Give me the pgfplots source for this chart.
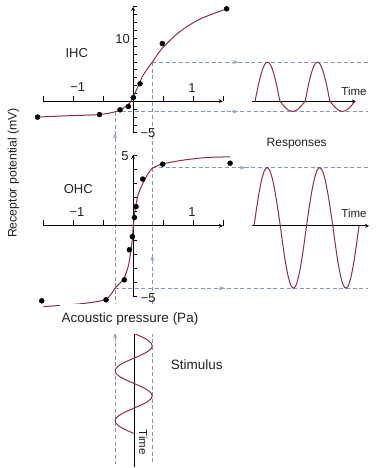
\documentclass[border=0pt]{standalone}
\usepackage{pgfplots}
\pgfplotsset{compat=1.18}
\usepackage{fontspec}
\setmainfont{Liberation Sans}
\usetikzlibrary{arrows.meta}
\definecolor{crvc}{HTML}{8E2F4A}
\definecolor{dashc}{HTML}{8398B8}
\definecolor{arrc}{HTML}{95A6C4}
\definecolor{txtc}{HTML}{222222}
\pgfplotsset{
  panel/.style={scale only axis, clip=false, anchor=south west,
    axis line style={line width=0.8pt, black, -},
    every inner x axis line/.append style={-},
    every inner y axis line/.append style={-},
    tick style={line width=0.8pt, black},
    tick align=center},
  dsh/.style={color=dashc, line width=0.7pt, dash pattern=on 4pt off 2.6pt},
  arw/.style={color=arrc, line width=0.7pt, -{Stealth[length=6pt,width=4pt]}},
  crv/.style={color=crvc, line width=1pt, smooth},
  dots/.style={only marks, mark=*, mark size=2.5pt, black}
}
\begin{document}
\begin{tikzpicture}[x=1pt,y=1pt]
\useasboundingbox[fill=white] (0,0) rectangle (379,468);

% ---------- IHC transfer curve ----------
\begin{axis}[panel, at={(43.2pt,335.2pt)}, width=179.7pt, height=126pt,
  xmin=-1.5, xmax=1.5, ymin=-5, ymax=15,
  axis lines=middle,
  xtick={-1.5,-1,-0.5,0,0.5,1,1.5},
  ytick={-5,-3.75,-2.5,-1.25,0,1.25,2.5,3.75,5,6.25,7.5,8.75,10,11.25,12.5,13.75,15},
  xticklabels={}, yticklabels={},
  xtick style={/pgfplots/major tick length=5.5pt, yshift=2.75pt},
  ytick style={/pgfplots/major tick length=3.5pt, xshift=1.75pt}]
  % guide lines
  \addplot[dsh] coordinates {(0.322,6.22) (3.92,6.22)};
  \addplot[dsh] coordinates {(-0.30,-1.62) (3.92,-1.62)};
  \addplot[dsh] coordinates {(-0.30,-1.62) (-0.30,-57.5)};
  \addplot[dsh] coordinates {(0.322,6.22) (0.322,-57.5)};
  \addplot[arw] coordinates {(1.66,6.22) (1.76,6.22)};
  \addplot[arw] coordinates {(1.66,-1.62) (1.76,-1.62)};
  \addplot[arw] coordinates {(-0.30,-6.5) (-0.30,-5.0)};
  \addplot[arw] coordinates {(0.322,-25.9) (0.322,-24.4)};
  \addplot[arw] coordinates {(-0.30,-38.2) (-0.30,-36.7)};
  % curve
  \addplot[crv] coordinates {(-1.595,-2.51) (-1.105,-2.30) (-0.562,-2.10) (-0.30,-1.67)
    (-0.162,-1.08) (-0.05,-0.19) (0.005,0.76) (0.088,2.46) (0.172,4.21) (0.322,6.22)
    (0.489,8.44) (0.785,11.08) (1.118,13.05) (1.564,14.68)};
  \addplot[dots] coordinates {(-1.595,-2.51) (-0.56,-2.10) (-0.217,-1.35) (-0.078,-0.83)
    (0.005,0.60) (0.117,2.78) (0.488,9.17) (1.562,14.68)};
\end{axis}

% ---------- OHC transfer curve ----------
\begin{axis}[panel, at={(43.2pt,171.3pt)}, width=179.7pt, height=141.7pt,
  xmin=-1.5, xmax=1.5, ymin=-5, ymax=5,
  axis lines=middle,
  xtick={-1.5,-1,-0.5,0,0.5,1,1.5},
  ytick={-5,-4,-3,-2,-1,0,1,2,3,4,5},
  xticklabels={}, yticklabels={},
  xtick style={/pgfplots/major tick length=5.5pt, yshift=2.75pt},
  ytick style={/pgfplots/major tick length=3.5pt, xshift=1.75pt}]
  \addplot[dsh] coordinates {(0.322,4.11) (3.92,4.11)};
  \addplot[dsh] coordinates {(-0.30,-4.40) (3.92,-4.40)};
  \addplot[arw] coordinates {(1.78,4.11) (1.88,4.11)};
  \addplot[arw] coordinates {(1.44,-4.40) (1.54,-4.40)};
  \addplot[crv] coordinates {(-1.497,-5.70) (-0.830,-5.48) (-0.451,-5.17) (-0.30,-4.40)
    (-0.162,-3.76) (-0.078,-2.82) (-0.022,-1.29) (0.005,0) (0.033,1.06) (0.088,2.24)
    (0.20,3.30) (0.259,3.74) (0.322,4.06) (0.40,4.23) (0.505,4.38) (0.84,4.64)
    (1.23,4.82) (1.62,4.87)};
  \addplot[dots] coordinates {(-1.524,-5.29) (-0.451,-5.22) (-0.145,-3.81) (-0.062,-1.69)
    (-0.012,-0.76) (0.022,0.59) (0.05,1.36) (0.162,3.30) (0.495,4.35) (1.62,4.42)};
\end{axis}

% ---------- IHC response ----------
\begin{axis}[panel, at={(251.7pt,335.2pt)}, width=104.3pt, height=126pt,
  xmin=-0.066, xmax=2.02, ymin=-5, ymax=15,
  axis x line=middle, axis y line=none, xtick=\empty, ytick=\empty]
  \addplot[crv] coordinates {
    (0,0) (0.05,1.922) (0.10,3.656) (0.15,5.032) (0.20,5.916) (0.25,6.22) (0.30,5.916)
    (0.35,5.032) (0.40,3.656) (0.45,1.922) (0.50,0) (0.55,-0.494) (0.60,-0.940)
    (0.65,-1.294) (0.70,-1.522) (0.75,-1.6) (0.80,-1.522) (0.85,-1.294) (0.90,-0.940)
    (0.95,-0.494) (1.00,0) (1.05,1.922) (1.10,3.656) (1.15,5.032) (1.20,5.916)
    (1.25,6.22) (1.30,5.916) (1.35,5.032) (1.40,3.656) (1.45,1.922) (1.50,0)
    (1.55,-0.494) (1.60,-0.940) (1.65,-1.294) (1.70,-1.522) (1.75,-1.6) (1.80,-1.522)
    (1.85,-1.294) (1.90,-0.940) (1.95,-0.494) (2.00,0)};
\end{axis}

% ---------- OHC response ----------
\begin{axis}[panel, at={(251.7pt,171.3pt)}, width=117.3pt, height=141.7pt,
  xmin=-0.044, xmax=2.19, ymin=-5, ymax=5,
  axis x line=middle, axis y line=none, xtick=\empty, ytick=\empty]
  \addplot[crv] coordinates {
    (0,0) (0.05,1.270) (0.10,2.416) (0.15,3.325) (0.20,3.909) (0.25,4.11) (0.30,3.909)
    (0.35,3.325) (0.40,2.416) (0.45,1.270) (0.50,0) (0.55,-1.360) (0.60,-2.586)
    (0.65,-3.560) (0.70,-4.185) (0.75,-4.40) (0.80,-4.185) (0.85,-3.560) (0.90,-2.586)
    (0.95,-1.360) (1.00,0) (1.05,1.270) (1.10,2.416) (1.15,3.325) (1.20,3.909)
    (1.25,4.11) (1.30,3.909) (1.35,3.325) (1.40,2.416) (1.45,1.270) (1.50,0)
    (1.55,-1.360) (1.60,-2.586) (1.65,-3.560) (1.70,-4.185) (1.75,-4.40) (1.80,-4.185)
    (1.85,-3.560) (1.90,-2.586) (1.95,-1.360) (2.00,0)};
\end{axis}

% ---------- Stimulus ----------
\begin{axis}[panel, at={(43.2pt,0.7pt)}, width=179.7pt, height=134pt,
  xmin=-1.5, xmax=1.5, ymin=0, ymax=2.68, y dir=reverse, hide axis]
  \addplot[black, line width=0.8pt] coordinates {(0.03,0) (0.03,2.68)};
  \addplot[crv] coordinates {
    (0.01,0) (0.1058,0.05) (0.1922,0.10) (0.2608,0.15) (0.3048,0.20) (0.32,0.25)
    (0.3048,0.30) (0.2608,0.35) (0.1922,0.40) (0.1058,0.45) (0.01,0.50)
    (-0.0858,0.55) (-0.1722,0.60) (-0.2408,0.65) (-0.2848,0.70) (-0.30,0.75)
    (-0.2848,0.80) (-0.2408,0.85) (-0.1722,0.90) (-0.0858,0.95) (0.01,1.00)
    (0.1058,1.05) (0.1922,1.10) (0.2608,1.15) (0.3048,1.20) (0.32,1.25)
    (0.3048,1.30) (0.2608,1.35) (0.1922,1.40) (0.1058,1.45) (0.01,1.50)
    (-0.0858,1.55) (-0.1722,1.60) (-0.2408,1.65) (-0.2848,1.70) (-0.30,1.75)
    (-0.2848,1.80) (-0.2408,1.85) (-0.1722,1.90) (-0.0858,1.95) (0.01,2.00)};
\end{axis}

% ---------- texts ----------
\begin{scope}[every node/.style={text=txtc, inner sep=0pt}]
\node[font=\fontsize{13}{15}\selectfont] at (76.7,414.7) {IHC};
\node[font=\fontsize{13}{15}\selectfont] at (77.7,380.7) {−1};
\node[font=\fontsize{13}{15}\selectfont] at (192,380) {1};
\node[font=\fontsize{13}{15}\selectfont] at (122.7,428.7) {10};
\node[font=\fontsize{13}{15}\selectfont] at (148,334.7) {−5};
\node[font=\fontsize{13}{15}\selectfont] at (78.3,278.7) {OHC};
\node[font=\fontsize{13}{15}\selectfont] at (77,256.3) {−1};
\node[font=\fontsize{13}{15}\selectfont] at (192,256.3) {1};
\node[font=\fontsize{13}{15}\selectfont] at (125,312.3) {5};
\node[font=\fontsize{13}{15}\selectfont] at (148.3,170.3) {−5};
\node[font=\fontsize{11.5}{13}\selectfont] at (354,377) {Time};
\node[font=\fontsize{12}{14}\selectfont] at (296.7,324) {Responses};
\node[font=\fontsize{11.5}{13}\selectfont] at (354,255) {Time};
\node[font=\fontsize{12.3}{14}\selectfont, rotate=90] at (13.5,295) {Receptor potential (mV)};
\node[font=\fontsize{13.5}{15}\selectfont, fill=white, minimum height=30pt, inner xsep=2pt] at (130,149) {Acoustic pressure (Pa)};
\node[font=\fontsize{13.5}{15}\selectfont] at (196.7,103) {Stimulus};
\node[font=\fontsize{11.5}{13}\selectfont, rotate=-90] at (143.3,26) {Time};
\end{scope}
\end{tikzpicture}
\end{document}
